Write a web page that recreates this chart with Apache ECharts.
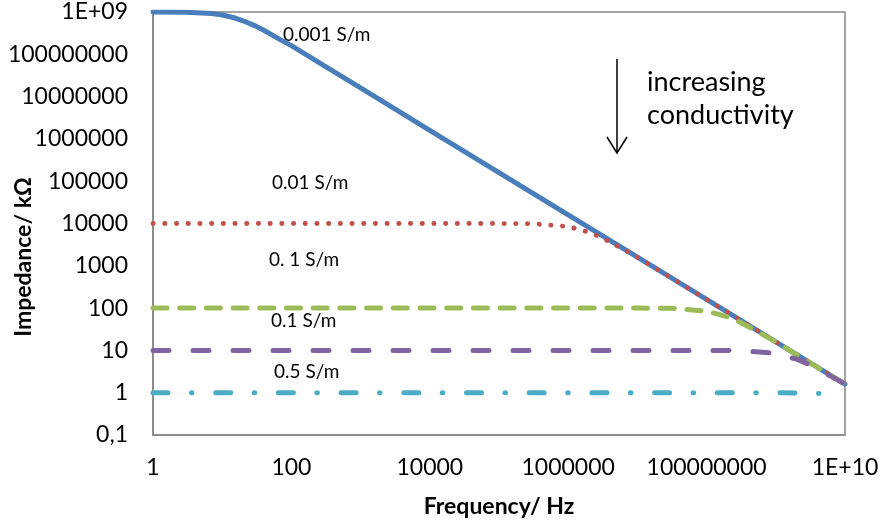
<!DOCTYPE html>
<html>
<head>
<meta charset="utf-8">
<script src="https://cdn.jsdelivr.net/npm/echarts@6/dist/echarts.min.js"></script>
<style>
html,body{margin:0;padding:0;background:#fff;}
#chart{width:881px;height:531px;}
</style>
</head>
<body>
<div id="chart"></div>
<script>
// Tick labels
const xTickLabels = ['1', '10', '100', '1000', '10000', '100000', '1000000', '10000000', '100000000', '1E+09', '1E+10'];
const yTickLabels = {'-1': '0,1', '0': '1', '1': '10', '2': '100', '3': '1000', '4': '10000', '5': '100000', '6': '1000000', '7': '10000000', '8': '100000000', '9': '1E+09'};

// Series: 0.001 S/m (solid blue)
const freqBlue = [1, 3, 5, 7, 10, 15, 20, 30, 40, 50, 70, 100, 300, 1e3, 1e4, 1e5, 1e6, 1e7, 1e8, 1e9, 1e10];
const impBlue  = [1e9, 9.9e8, 9.5e8, 9.2e8, 8.5e8, 7.3e8, 6.2e8, 4.7e8, 3.7e8, 3.0e8, 2.2e8, 1.6e8, 5.3e7, 1.6e7, 1.6e6, 1.6e5, 1.6e4, 1.6e3, 160, 16, 1.6];
// 0.01 S/m (dotted red)
const freqRed = [1, 1e4, 1e5, 3e5, 1e6, 2e6, 3e6, 5e6, 1e7, 3e7, 1e8, 1e9, 1e10];
const impRed  = [1e4, 1e4, 1e4, 9.9e3, 8.5e3, 6.2e3, 4.7e3, 3.0e3, 1.6e3, 530, 160, 16, 1.6];
// 0. 1 S/m (dashed green)
const freqGreen = [1, 1e6, 1e7, 3e7, 1e8, 2e8, 3e8, 5e8, 1e9, 3e9, 1e10];
const impGreen  = [100, 100, 100, 99, 85, 62, 47, 30, 16, 5.3, 1.6];
// 0.1 S/m (long-dashed purple)
const freqPurple = [1, 1e7, 1e8, 3e8, 1e9, 2e9, 3e9, 5e9, 1e10];
const impPurple  = [10, 10, 10, 9.9, 8.5, 6.2, 4.7, 3.0, 1.6];
// 0.5 S/m (dash-dot cyan)
const freqCyan = [1, 1e8, 1e9, 3e9, 6e9];
const impCyan  = [1, 1, 1, 0.98, 0.94];

const pairs = (xs, ys) => xs.map((x, i) => [x, ys[i]]);
const FONT = 'Lato, "Open Sans", sans-serif';

const chart = echarts.init(document.getElementById('chart'));
const baseSeries = (name, data, color, width, type, cap) => ({
  name, type: 'line', data, showSymbol: false, symbol: 'none', smooth: false,
  lineStyle: {color, width, type, cap: cap || 'round', join: 'round'},
  emphasis: {disabled: true}
});
const label = (text, x, yCenter, size) => ({
  type: 'text', style: {text, x, y: yCenter, font: size + 'px ' + FONT, fill: '#000', textVerticalAlign: 'middle', verticalAlign: 'middle'}
});

chart.setOption({
  animation: false,
  backgroundColor: '#fff',
  grid: {left: 153, top: 12, right: 36, bottom: 96, show: true, borderColor: '#868686', borderWidth: 1.5,
         containLabel: false, outerBoundsMode: 'none'},
  xAxis: {
    type: 'log', logBase: 10, min: 1, max: 1e10, interval: 2,
    name: 'Frequency/ Hz', nameLocation: 'middle', nameGap: 60, nameMoveOverlap: false,
    nameTextStyle: {fontFamily: FONT, fontWeight: 'bold', fontSize: 23, color: '#000'},
    axisLine: {show: true, lineStyle: {color: '#868686', width: 1.5}},
    axisTick: {show: false},
    splitLine: {show: false},
    axisLabel: {
      fontFamily: FONT, fontSize: 23, color: '#000', margin: 21,
      formatter: v => xTickLabels[Math.round(Math.log10(v))]
    }
  },
  yAxis: {
    type: 'log', logBase: 10, min: 0.1, max: 1e9, interval: 1,
    axisLine: {show: true, lineStyle: {color: '#868686', width: 1.5}},
    axisTick: {show: false},
    splitLine: {show: false},
    axisLabel: {
      fontFamily: FONT, fontSize: 23, color: '#000', margin: 25,
      formatter: v => yTickLabels[String(Math.round(Math.log10(v)))]
    }
  },
  series: [
    baseSeries('0.001 S/m', pairs(freqBlue, impBlue), '#4A7EBB', 5, 'solid'),
    baseSeries('0.01 S/m', pairs(freqRed, impRed), '#C0504D', 4.8, [0.3, 11.4]),
    baseSeries('0. 1 S/m', pairs(freqGreen, impGreen), '#9BBB59', 5, [14, 12.7]),
    baseSeries('0.1 S/m', pairs(freqPurple, impPurple), '#8064A2', 5, [16, 24]),
    baseSeries('0.5 S/m', pairs(freqCyan, impCyan), '#4BACC6', 5, [15, 23.5, 0.5, 23.7])
  ],
  graphic: [
    {type: 'text', x: 24, y: 257, rotation: Math.PI / 2,
     style: {text: 'Impedance/ kΩ', x: 0, y: 0, font: 'bold 23px ' + FONT, fill: '#000',
             textAlign: 'center', align: 'center', textVerticalAlign: 'middle', verticalAlign: 'middle'}},
    label('0.001 S/m', 283, 35, 19),
    label('0.01 S/m', 272, 183, 19),
    label('0. 1 S/m', 269, 260, 19),
    label('0.1 S/m', 271, 321, 19),
    label('0.5 S/m', 274, 372, 19),
    label('increasing', 647, 82, 27),
    label('conductivity', 647, 115, 27),
    {type: 'line', shape: {x1: 617, y1: 59, x2: 617, y2: 153}, style: {stroke: '#000', lineWidth: 1.5}},
    {type: 'polyline', shape: {points: [[607, 137], [617, 153], [627, 137]]}, style: {stroke: '#000', lineWidth: 1.5, fill: null}}
  ]
});
</script>
</body>
</html>
